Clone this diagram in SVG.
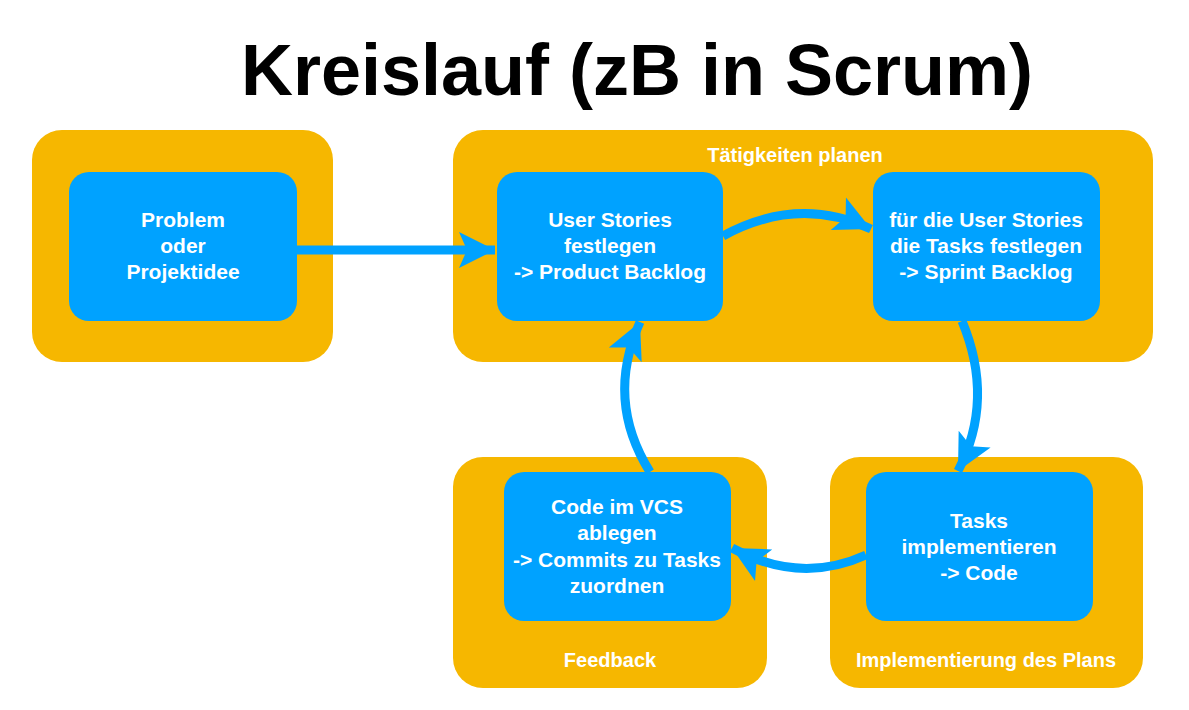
<svg xmlns="http://www.w3.org/2000/svg" width="1189" height="710" viewBox="0 0 1189 710">
<defs>
<style>
.outer{fill:#F6B700}
.inner{fill:#00A2FF}
.t{font-family:"Liberation Sans",Arial,sans-serif;font-weight:bold;fill:#fff;font-size:21px;text-anchor:middle}
.lbl{font-family:"Liberation Sans",Arial,sans-serif;font-weight:bold;fill:#fff;font-size:20px;text-anchor:middle}
.title{font-family:"Liberation Sans",Arial,sans-serif;font-weight:bold;fill:#000;font-size:72px;text-anchor:middle}
.c{fill:none;stroke:#00A2FF;stroke-width:9}
</style>
<marker id="ah" viewBox="0 0 40 40" refX="38" refY="20" markerWidth="40" markerHeight="40" markerUnits="userSpaceOnUse" orient="auto">
<path d="M38,20 L2,2 L10,20 L2,38 Z" fill="#00A2FF"/>
</marker>
</defs>
<rect width="1189" height="710" fill="#fff"/>
<text class="title" x="637" y="95">Kreislauf (zB in Scrum)</text>

<g id="group-start"><rect class="outer" x="32" y="130" width="301" height="232" rx="30"/></g>
<g id="group-plan"><rect class="outer" x="453" y="130" width="700" height="232" rx="30"/><text class="lbl" x="795" y="162">Tätigkeiten planen</text></g>
<g id="group-feedback"><rect class="outer" x="453" y="457" width="314" height="231" rx="30"/><text class="lbl" x="610" y="667">Feedback</text></g>
<g id="group-impl"><rect class="outer" x="830" y="457" width="313" height="231" rx="30"/><text class="lbl" x="986" y="667">Implementierung des Plans</text></g>

<g id="connectors">
<path class="c" d="M297,250 L495,250" marker-end="url(#ah)"/>
<path class="c" d="M723,236 Q798,195 871,229" marker-end="url(#ah)"/>
<path class="c" d="M962,321 Q995,400 958,471" marker-end="url(#ah)"/>
<path class="c" d="M866,555 Q800,585 732,548" marker-end="url(#ah)"/>
<path class="c" d="M650,472 Q605,400 640,322" marker-end="url(#ah)"/>
</g>

<g id="node-problem"><rect class="inner" x="69" y="172" width="228" height="149" rx="20"/>
<text class="t" x="183" y="227">Problem</text><text class="t" x="183" y="253">oder</text><text class="t" x="183" y="279">Projektidee</text></g>
<g id="node-stories"><rect class="inner" x="497" y="172" width="226" height="149" rx="20"/>
<text class="t" x="610" y="227">User Stories</text><text class="t" x="610" y="253">festlegen</text><text class="t" x="610" y="279">-&gt; Product Backlog</text></g>
<g id="node-tasks-plan"><rect class="inner" x="873" y="172" width="227" height="149" rx="20"/>
<text class="t" x="986" y="227">für die User Stories</text><text class="t" x="986" y="253">die Tasks festlegen</text><text class="t" x="986" y="279">-&gt; Sprint Backlog</text></g>
<g id="node-code"><rect class="inner" x="504" y="472" width="227" height="149" rx="20"/>
<text class="t" x="617" y="514">Code im VCS</text><text class="t" x="617" y="540">ablegen</text><text class="t" x="617" y="567">-&gt; Commits zu Tasks</text><text class="t" x="617" y="593">zuordnen</text></g>
<g id="node-impl"><rect class="inner" x="866" y="472" width="227" height="149" rx="20"/>
<text class="t" x="979" y="528">Tasks</text><text class="t" x="979" y="554">implementieren</text><text class="t" x="979" y="580">-&gt; Code</text></g>
</svg>
